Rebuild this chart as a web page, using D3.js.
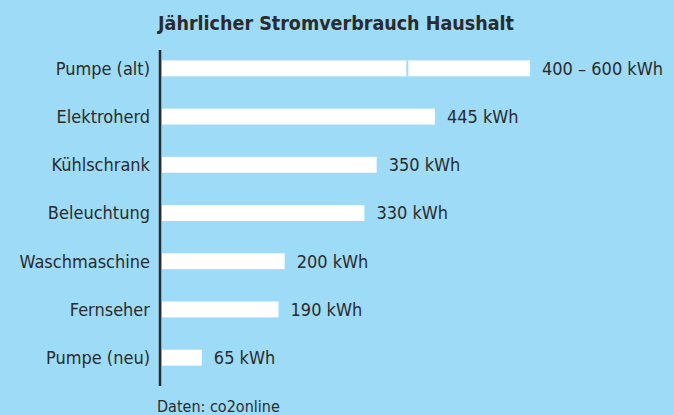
<!DOCTYPE html>
<html>
<head>
<meta charset="utf-8">
<script src="https://cdn.jsdelivr.net/npm/d3@7"></script>
<style>
  body { margin: 0; background: #9ddbf7; }
  svg { display: block; font-family: "DejaVu Sans Condensed", "DejaVu Sans", sans-serif; }
</style>
</head>
<body>
<svg id="chart" width="674" height="415"></svg>
<script>
const categories = ['Pumpe (alt)', 'Elektroherd', 'Kühlschrank', 'Beleuchtung', 'Waschmaschine', 'Fernseher', 'Pumpe (neu)']
const lowValues = [400, 445, 350, 330, 200, 190, 65]
const highValues = [600, null, null, null, null, null, null]
const valueLabels = ['400 – 600 kWh', '445 kWh', '350 kWh', '330 kWh', '200 kWh', '190 kWh', '65 kWh']

const width = 674
const height = 415
const bg = '#9ddbf7'
const ink = '#2b2b2b'

const svg = d3.select('#chart')
svg.append('rect').attr('width', width).attr('height', height).attr('fill', bg)

const x = d3.scaleLinear().domain([0, 600]).range([162, 530])
const y = d3.scaleBand().domain(categories).range([44, 382]).paddingInner(0.67).paddingOuter(0.34)

svg.append('text')
  .attr('x', 336)
  .attr('y', 30)
  .attr('text-anchor', 'middle')
  .attr('font-size', 19.5)
  .attr('font-weight', 'bold')
  .attr('fill', ink)
  .text('Jährlicher Stromverbrauch Haushalt')

const rows = svg.selectAll('g.row')
  .data(categories)
  .join('g')
  .attr('class', 'row')

rows.append('rect')
  .attr('x', x(0))
  .attr('y', d => y(d))
  .attr('height', y.bandwidth())
  .attr('width', (d, i) => x(highValues[i] ?? lowValues[i]) - x(0))
  .attr('fill', '#fff')

// divider marking the lower bound of a range bar
rows.filter((d, i) => highValues[i] != null)
  .append('line')
  .attr('x1', d => x(lowValues[categories.indexOf(d)]))
  .attr('x2', d => x(lowValues[categories.indexOf(d)]))
  .attr('y1', d => y(d))
  .attr('y2', d => y(d) + y.bandwidth())
  .attr('stroke', bg)
  .attr('stroke-width', 2)

rows.append('text')
  .attr('x', 150)
  .attr('y', d => y(d) + y.bandwidth() / 2)
  .attr('dy', '0.36em')
  .attr('text-anchor', 'end')
  .attr('font-size', 18)
  .attr('fill', ink)
  .text(d => d)

rows.append('text')
  .attr('x', (d, i) => x(highValues[i] ?? lowValues[i]) + 12)
  .attr('y', d => y(d) + y.bandwidth() / 2)
  .attr('dy', '0.36em')
  .attr('font-size', 18)
  .attr('fill', ink)
  .text((d, i) => valueLabels[i])

svg.append('line')
  .attr('x1', 160).attr('x2', 160)
  .attr('y1', 50).attr('y2', 386)
  .attr('stroke', ink)
  .attr('stroke-width', 2.5)

svg.append('text')
  .attr('x', 157)
  .attr('y', 412)
  .attr('font-size', 16)
  .attr('fill', ink)
  .text('Daten: co2online')
</script>
</body>
</html>
